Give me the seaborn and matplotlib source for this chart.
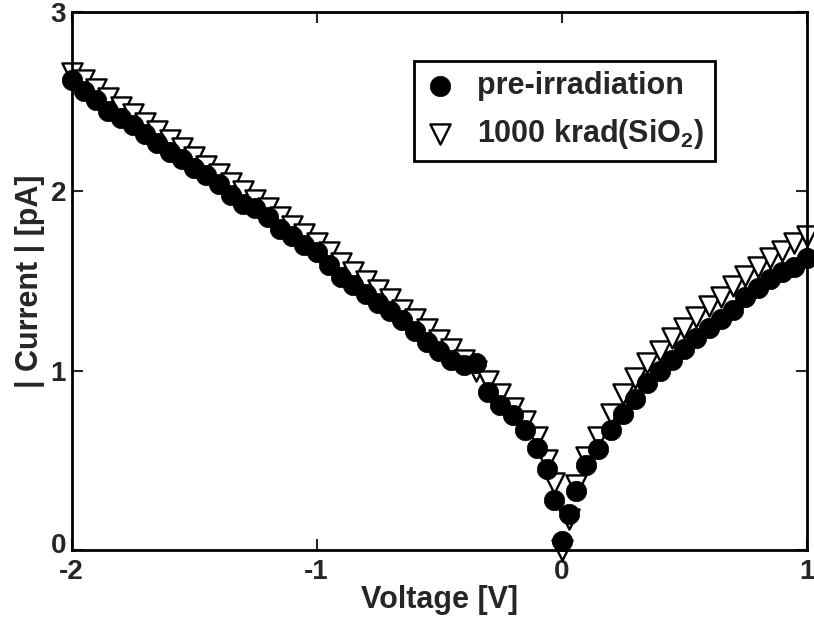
# I-V sweep: |current| vs voltage, before and after 1000 krad(SiO2)

import pandas as pd
import matplotlib.pyplot as plt
import matplotlib.transforms as mtransforms
import seaborn as sns

voltage = [
    -2.00, -1.95, -1.90, -1.85, -1.80, -1.75, -1.70, -1.65, -1.60, -1.55,
    -1.50, -1.45, -1.40, -1.35, -1.30, -1.25, -1.20, -1.15, -1.10, -1.05,
    -1.00, -0.95, -0.90, -0.85, -0.80, -0.75, -0.70, -0.65, -0.60, -0.55,
    -0.50, -0.45, -0.40, -0.35, -0.30, -0.25, -0.20, -0.15, -0.10, -0.06,
    -0.03, 0.00, 0.03, 0.06, 0.10, 0.15, 0.20, 0.25, 0.30, 0.35,
    0.40, 0.45, 0.50, 0.55, 0.60, 0.65, 0.70, 0.75, 0.80, 0.85,
    0.90, 0.95, 1.00,
]

current_pre = [
    2.62, 2.56, 2.51, 2.45, 2.41, 2.37, 2.32, 2.27, 2.22, 2.18,
    2.13, 2.09, 2.04, 1.98, 1.93, 1.91, 1.86, 1.79, 1.75, 1.70,
    1.66, 1.59, 1.52, 1.48, 1.43, 1.38, 1.33, 1.28, 1.22, 1.16,
    1.11, 1.06, 1.03, 1.04, 0.88, 0.81, 0.75, 0.67, 0.57, 0.45,
    0.28, 0.05, 0.20, 0.33, 0.47, 0.56, 0.67, 0.76, 0.84, 0.93,
    1.00, 1.06, 1.12, 1.18, 1.24, 1.29, 1.34, 1.41, 1.46, 1.51,
    1.55, 1.58, 1.63,
]

current_1000 = [
    2.66, 2.62, 2.57, 2.52, 2.47, 2.43, 2.38, 2.34, 2.29, 2.24,
    2.19, 2.14, 2.10, 2.05, 2.00, 1.95, 1.91, 1.86, 1.81, 1.76,
    1.71, 1.66, 1.60, 1.55, 1.50, 1.45, 1.40, 1.34, 1.29, 1.23,
    1.17, 1.12, 1.06, 1.00, 0.94, 0.87, 0.79, 0.72, 0.63, 0.50,
    0.37, 0.00, 0.17, 0.36, 0.52, 0.63, 0.76, 0.87, 0.96, 1.04,
    1.11, 1.18, 1.24, 1.30, 1.36, 1.41, 1.47, 1.53, 1.58, 1.63,
    1.67, 1.71, 1.75,
]

label_pre = 'pre-irradiation'
label_1000 = r'1000 krad(SiO$_2$)'

df = pd.DataFrame({'V': voltage, 'pre': current_pre, 'post': current_1000})

sns.set_theme(style='ticks')
plt.rcParams['font.family'] = ['Liberation Sans', 'DejaVu Sans']
plt.rcParams['font.weight'] = 'bold'
plt.rcParams['mathtext.fontset'] = 'custom'
plt.rcParams['mathtext.rm'] = 'Liberation Sans:bold'
plt.rcParams['mathtext.it'] = 'Liberation Sans:bold'
plt.rcParams['mathtext.bf'] = 'Liberation Sans:bold'

fig = plt.figure(figsize=(8.14, 6.19), dpi=100)
ax = fig.add_axes([0.088, 0.112, 0.903, 0.868])

# triangles underneath, filled circles on top
sns.scatterplot(data=df, x='V', y='post', ax=ax, marker='v', s=210,
                facecolor='white', edgecolor='black', linewidth=1.7,
                clip_on=False, zorder=2, label=label_1000, legend=False)
sns.scatterplot(data=df, x='V', y='pre', ax=ax, marker='o', s=215,
                color='black', edgecolor='black', linewidth=0.5,
                clip_on=False, zorder=3, label=label_pre, legend=False)

ax.set_xlim(-2, 1)
ax.set_ylim(0, 3)
ax.set_xticks([-2, -1, 0, 1])
ax.set_yticks([0, 1, 2, 3])
ax.set_xticklabels(['-2', '-1', '0', '1'])
ax.set_yticklabels(['0', '1', '2', '3'])
ax.tick_params(direction='in', length=8, width=1.5, labelsize=20,
               top=True, right=True, pad=4)
ax.tick_params(axis='x', pad=7)
for lab in ax.get_xticklabels() + ax.get_yticklabels():
    lab.set_fontweight('bold')
# lift the y "0" a little so it clears the x "-2"
zero_lab = ax.get_yticklabels()[0]
zero_lab.set_transform(zero_lab.get_transform() +
                       mtransforms.ScaledTranslation(0, 5 / 72, fig.dpi_scale_trans))
for sp in ax.spines.values():
    sp.set_linewidth(2)
    sp.set_color('black')

ax.set_xlabel('Voltage [V]', fontsize=22, fontweight='bold', labelpad=0)
ax.set_ylabel('| Current | [pA]', fontsize=22, fontweight='bold', labelpad=4)

handles, labels = ax.get_legend_handles_labels()
order = [labels.index(label_pre), labels.index(label_1000)]
leg = ax.legend([handles[i] for i in order], [labels[i] for i in order],
                loc='upper left', bbox_to_anchor=(0.466, 0.91),
                fontsize=22, frameon=True, fancybox=False, framealpha=1,
                edgecolor='black', handletextpad=0.7, borderpad=0.35,
                labelspacing=0.5, handlelength=1.0, borderaxespad=0)
leg.get_frame().set_linewidth(2)
for t in leg.get_texts():
    t.set_fontweight('bold')

fig.savefig('out.png', dpi=100)
